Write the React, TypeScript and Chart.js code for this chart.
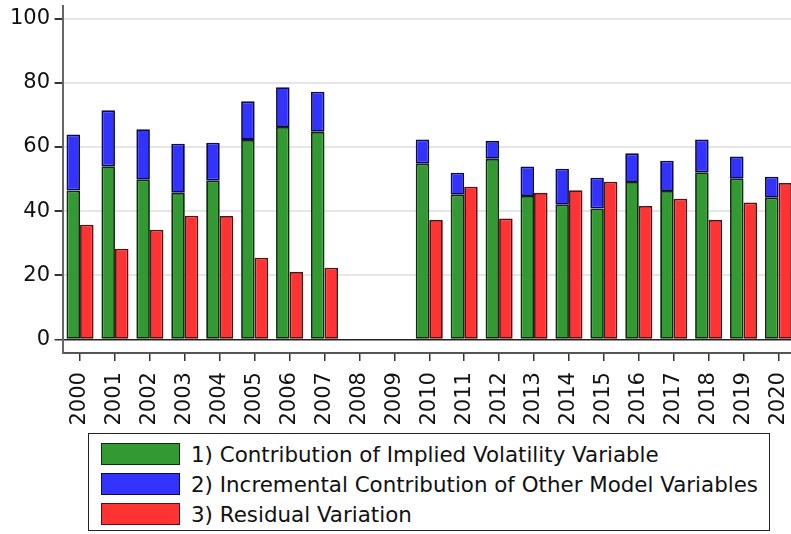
import React, { useEffect, useRef } from "react";
import { Chart, registerables } from "chart.js";

Chart.register(...registerables);

const years = ["2000","2001","2002","2003","2004","2005","2006","2007","2008","2009","2010","2011","2012","2013","2014","2015","2016","2017","2018","2019","2020"];
const impliedVol = [46.4, 54.0, 49.8, 45.7, 49.5, 62.2, 66.2, 64.7, 0, 0, 54.8, 45.1, 56.3, 44.7, 42.0, 40.8, 49.1, 46.3, 52.1, 50.1, 44.2];
const incremental = [17.5, 17.4, 15.7, 15.3, 11.8, 12.0, 12.4, 12.5, 0, 0, 7.5, 6.9, 5.6, 9.2, 11.2, 9.6, 8.9, 9.4, 10.2, 6.9, 6.5];
const residual = [35.8, 28.3, 34.2, 38.6, 38.5, 25.5, 21.1, 22.4, 0, 0, 37.3, 47.6, 37.7, 45.7, 46.5, 49.2, 41.6, 43.9, 37.3, 42.7, 48.8];
const yTicks = [0, 20, 40, 60, 80, 100];

const legendItems = [
  { label: "1) Contribution of Implied Volatility Variable", fill: "#339933", border: "#0d2b0d" },
  { label: "2) Incremental Contribution of Other Model Variables", fill: "#3333ff", border: "#0b0b4d" },
  { label: "3) Residual Variation", fill: "#ff3333", border: "#5a1010" },
];

const FONT = "'DejaVu Sans', sans-serif";

export default function App() {
  const ref = useRef<HTMLCanvasElement | null>(null);
  useEffect(() => {
    if (!ref.current) return;
    const chart = new Chart(ref.current, {
      type: "bar",
      data: {
        labels: years,
        datasets: [
          { label: legendItems[0].label, data: impliedVol, backgroundColor: legendItems[0].fill, borderColor: legendItems[0].border, borderWidth: 1.8, borderSkipped: false, stack: "a" },
          { label: legendItems[1].label, data: incremental, backgroundColor: legendItems[1].fill, borderColor: legendItems[1].border, borderWidth: 1.8, borderSkipped: false, stack: "a" },
          { label: legendItems[2].label, data: residual, backgroundColor: legendItems[2].fill, borderColor: legendItems[2].border, borderWidth: 1.8, borderSkipped: false, stack: "b" },
        ],
      },
      options: {
        responsive: false,
        animation: false,
        layout: { padding: { left: 5.5, right: 1, top: 2.5, bottom: 19.5 } },
        datasets: { bar: { categoryPercentage: 0.775, barPercentage: 1 } },
        plugins: { legend: { display: false }, tooltip: { enabled: false } },
        scales: {
          x: {
            stacked: true,
            grid: { offset: false, drawOnChartArea: false, drawTicks: true, tickLength: 8, tickColor: "#333", lineWidth: 1.5 },
            border: { display: true, color: "#555", width: 2 },
            ticks: { font: { family: FONT, size: 21, lineHeight: 0.5 }, color: "#111", minRotation: 90, maxRotation: 90, padding: 11, autoSkip: false },
          },
          y: {
            stacked: true,
            min: -4.2,
            max: 104,
            afterBuildTicks: (axis: any) => { axis.ticks = yTicks.map((v) => ({ value: v })); },
            grid: {
              color: (c: any) => (c.tick && c.tick.value === 0 ? "#222" : "#e6e6e6"),
              lineWidth: (c: any) => (c.tick && c.tick.value === 0 ? 1.5 : 2),
              tickLength: 8,
              tickColor: "#333",
            },
            border: { display: true, color: "#666", width: 2 },
            ticks: { font: { family: FONT, size: 21, lineHeight: 0.4 }, color: "#111", padding: 4.5 },
          },
        },
      },
    });
    return () => chart.destroy();
  }, []);

  return (
    <div style={{ position: "absolute", left: 0, top: 0, width: 791, height: 534, overflow: "hidden", background: "#fff" }}>
      <canvas ref={ref} width={800} height={459} style={{ position: "absolute", left: 0, top: -3 }} />
      <div
        style={{
          position: "absolute",
          left: 88,
          top: 433,
          width: 680,
          height: 96,
          border: "1px solid #222",
          background: "#fff",
          fontFamily: FONT,
          fontSize: 21.4,
          color: "#111",
        }}
      >
        {legendItems.map((it, i) => (
          <div key={i} style={{ position: "absolute", left: 12, top: 9 + i * 30, height: 22, display: "flex", alignItems: "center", whiteSpace: "nowrap" }}>
            <div style={{ width: 77, height: 20, background: it.fill, border: `1px solid ${it.border}`, marginRight: 11 }} />
            <span>{it.label}</span>
          </div>
        ))}
      </div>
    </div>
  );
}
